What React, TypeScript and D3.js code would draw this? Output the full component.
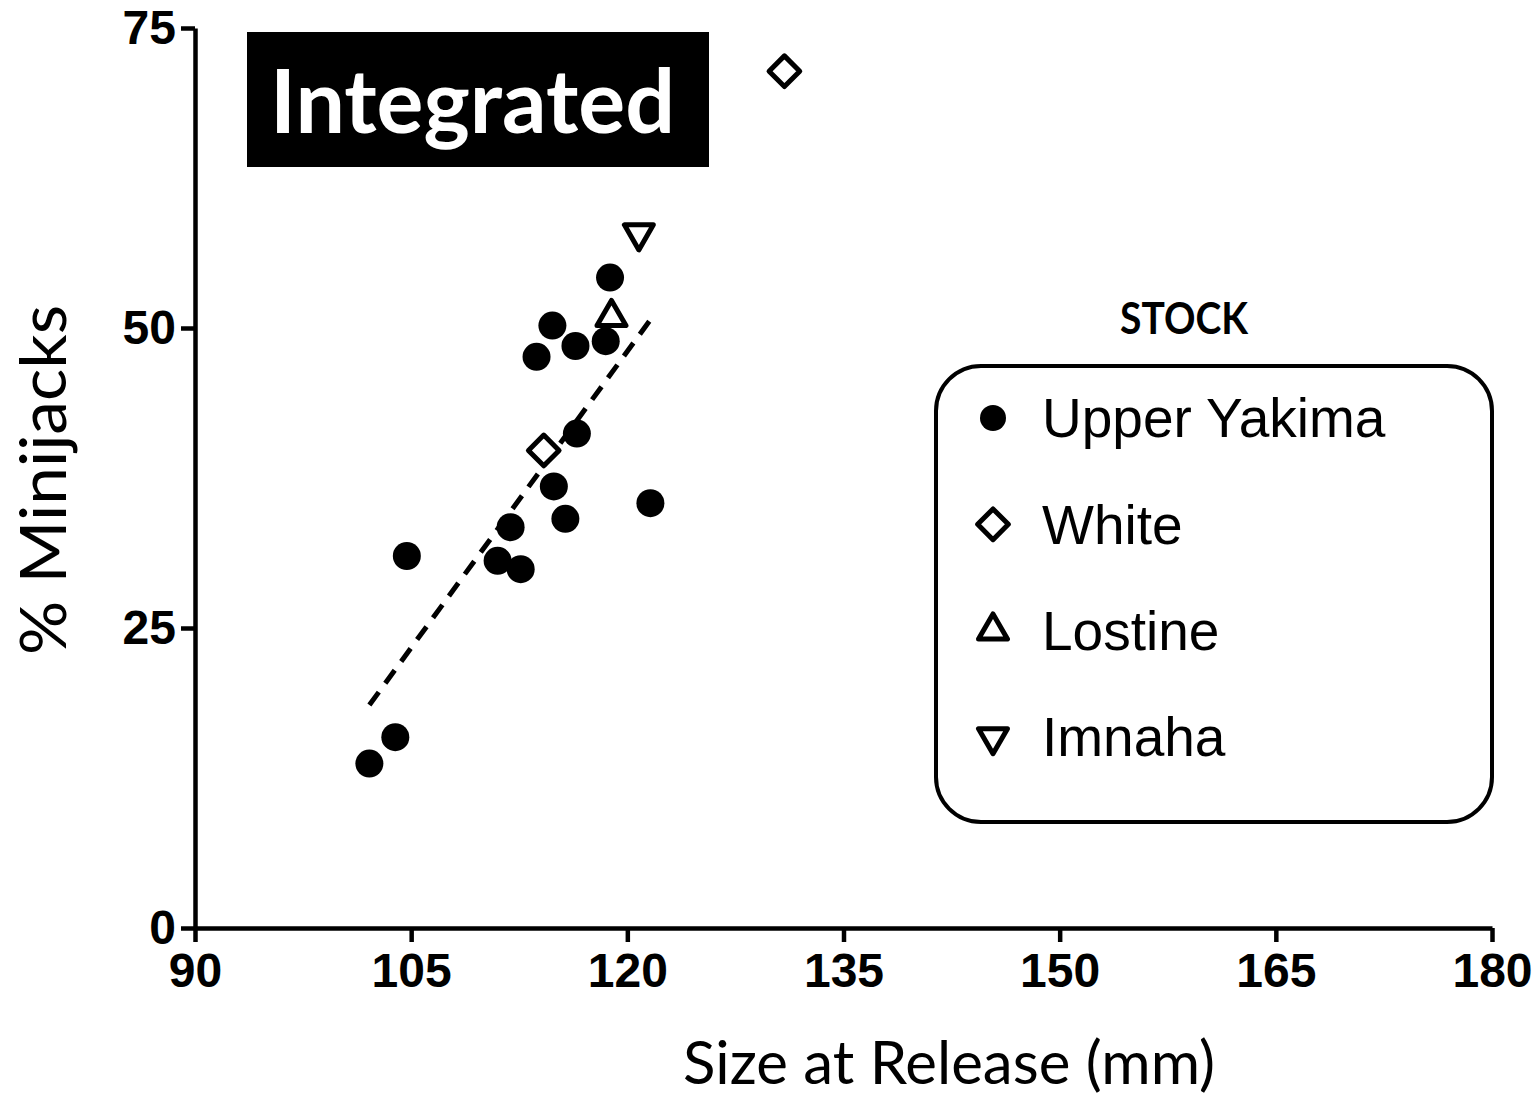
import React, { useEffect, useRef } from 'react';
import * as d3 from 'd3';

// Size at release (mm) and % minijacks
const upperYakimaSize = [102.1, 103.9, 104.7, 111.0, 112.6, 111.9, 114.9, 115.7, 116.5, 121.6, 113.7, 114.8, 116.4, 118.5, 118.8];
const upperYakimaPct = [13.7, 15.9, 31.0, 30.6, 29.9, 33.4, 36.8, 34.1, 41.2, 35.4, 47.6, 50.2, 48.5, 48.9, 54.2];
const whiteSize = [114.2, 130.9];
const whitePct = [39.8, 71.4];
const lostineSize = [118.9];
const lostinePct = [50.9];
const imnahaSize = [120.8];
const imnahaPct = [57.9];

const stockNames = ['Upper Yakima', 'White', 'Lostine', 'Imnaha'];
const xTicks = [90, 105, 120, 135, 150, 165, 180];
const yTicks = [0, 25, 50, 75];

const W = 1535;
const H = 1099;

const App = () => {
  const svgRef = useRef(null);

  useEffect(() => {
    const svg = d3.select(svgRef.current);
    svg.selectAll('*').remove();

    const x = d3.scaleLinear().domain([90, 180]).range([195, 1492]);
    const y = d3.scaleLinear().domain([0, 75]).range([928, 28]);

    const zip = (xs, ys) => xs.map((v, i) => ({ x: v, y: ys[i] }));

    // symbol generators
    const circle = d3.symbol(d3.symbolCircle, Math.PI * 14 * 14)();
    const diamond = d3.symbol(d3.symbolDiamond2, 600)();
    const triangle = d3.symbol(d3.symbolTriangle2, 600)();

    const series = [
      { name: 'Upper Yakima', pts: zip(upperYakimaSize, upperYakimaPct), path: circle, filled: true, rot: 0 },
      { name: 'White', pts: zip(whiteSize, whitePct), path: diamond, filled: false, rot: 0 },
      { name: 'Lostine', pts: zip(lostineSize, lostinePct), path: triangle, filled: false, rot: 0 },
      { name: 'Imnaha', pts: zip(imnahaSize, imnahaPct), path: triangle, filled: false, rot: 180 },
    ];

    // title box
    svg.append('rect')
      .attr('x', 247).attr('y', 32)
      .attr('width', 462).attr('height', 135)
      .attr('fill', '#000');
    svg.append('text')
      .attr('x', 270).attr('y', 133)
      .attr('textLength', 405)
      .attr('lengthAdjust', 'spacingAndGlyphs')
      .style('font-family', 'Lato, "Open Sans", sans-serif')
      .style('font-weight', 'bold')
      .style('font-size', '88px')
      .style('fill', '#fff')
      .text('Integrated');

    // axes
    const xAxis = svg.append('g')
      .attr('transform', `translate(0,${y(0)})`)
      .call(d3.axisBottom(x).tickValues(xTicks).tickSize(14).tickSizeOuter(0).tickPadding(11));
    const yAxis = svg.append('g')
      .attr('transform', `translate(${x(90)},0)`)
      .call(d3.axisLeft(y).tickValues(yTicks).tickSize(14).tickSizeOuter(0).tickPadding(5));

    [xAxis, yAxis].forEach(ax => {
      ax.select('.domain').attr('stroke', '#000').attr('stroke-width', 4.5);
      ax.selectAll('.tick line').attr('stroke', '#000').attr('stroke-width', 4.5);
      ax.selectAll('.tick text')
        .style('font-family', '"Liberation Sans", Arial, sans-serif')
        .style('font-weight', 'bold')
        .style('font-size', '48px')
        .style('fill', '#000');
    });

    // axis titles
    svg.append('text')
      .attr('transform', 'translate(66,480) rotate(-90)')
      .attr('text-anchor', 'middle')
      .attr('textLength', 350)
      .attr('lengthAdjust', 'spacingAndGlyphs')
      .style('font-family', 'Lato, "Open Sans", sans-serif')
      .style('font-size', '64px')
      .style('fill', '#000')
      .text('% Minijacks');

    svg.append('text')
      .attr('x', 949).attr('y', 1084)
      .attr('text-anchor', 'middle')
      .attr('textLength', 532)
      .attr('lengthAdjust', 'spacingAndGlyphs')
      .style('font-family', 'Lato, "Open Sans", sans-serif')
      .style('font-size', '60px')
      .style('fill', '#000')
      .text('Size at Release (mm)');

    // linear regression for Upper Yakima
    const mx = d3.mean(upperYakimaSize);
    const my = d3.mean(upperYakimaPct);
    const sxy = d3.sum(upperYakimaSize, (v, i) => (v - mx) * (upperYakimaPct[i] - my));
    const sxx = d3.sum(upperYakimaSize, v => (v - mx) * (v - mx));
    const slope = sxy / sxx;
    const icpt = my - slope * mx;
    const [x0, x1] = d3.extent(upperYakimaSize);
    const fit = [x0, x1].map(v => ({ x: v, y: icpt + slope * v }));

    svg.append('path')
      .datum(fit)
      .attr('d', d3.line().x(d => x(d.x)).y(d => y(d.y)))
      .attr('fill', 'none')
      .attr('stroke', '#000')
      .attr('stroke-width', 5)
      .attr('stroke-dasharray', '16,11');

    // points
    series.forEach(s => {
      svg.append('g').selectAll('path')
        .data(s.pts)
        .enter().append('path')
        .attr('d', s.path)
        .attr('transform', d => `translate(${x(d.x)},${y(d.y)}) rotate(${s.rot})`)
        .attr('fill', s.filled ? '#000' : '#fff')
        .attr('stroke', '#000')
        .attr('stroke-width', s.filled ? 0 : 5)
        .attr('stroke-linejoin', 'round');
    });

    // legend
    svg.append('text')
      .attr('x', 1184).attr('y', 334)
      .attr('text-anchor', 'middle')
      .attr('textLength', 128)
      .attr('lengthAdjust', 'spacingAndGlyphs')
      .style('font-family', 'Lato, "Open Sans", sans-serif')
      .style('font-weight', 'bold')
      .style('font-size', '43px')
      .text('STOCK');

    svg.append('rect')
      .attr('x', 936).attr('y', 366)
      .attr('width', 556).attr('height', 456)
      .attr('rx', 45)
      .attr('fill', 'none')
      .attr('stroke', '#000')
      .attr('stroke-width', 4);

    const rowY = d3.scalePoint().domain(stockNames).range([418, 737]);
    const legend = svg.append('g');
    series.forEach(s => {
      const ry = rowY(s.name);
      legend.append('path')
        .attr('d', s.name === 'Upper Yakima' ? d3.symbol(d3.symbolCircle, Math.PI * 13 * 13)() : s.path)
        .attr('transform', `translate(993,${ry}) rotate(${s.rot})`)
        .attr('fill', s.filled ? '#000' : '#fff')
        .attr('stroke', '#000')
        .attr('stroke-width', s.filled ? 0 : 5)
        .attr('stroke-linejoin', 'round');
      legend.append('text')
        .attr('x', 1042).attr('y', ry)
        .attr('dy', '0.35em')
        .style('font-family', '"Liberation Sans", Arial, sans-serif')
        .style('font-size', '55px')
        .style('fill', '#000')
        .text(s.name);
    });
  }, []);

  return (
    <>
      <style>{'body{margin:0}'}</style>
      <svg ref={svgRef} width={W} height={H} style={{ display: 'block', background: '#fff' }}></svg>
    </>
  );
};

export default App;
